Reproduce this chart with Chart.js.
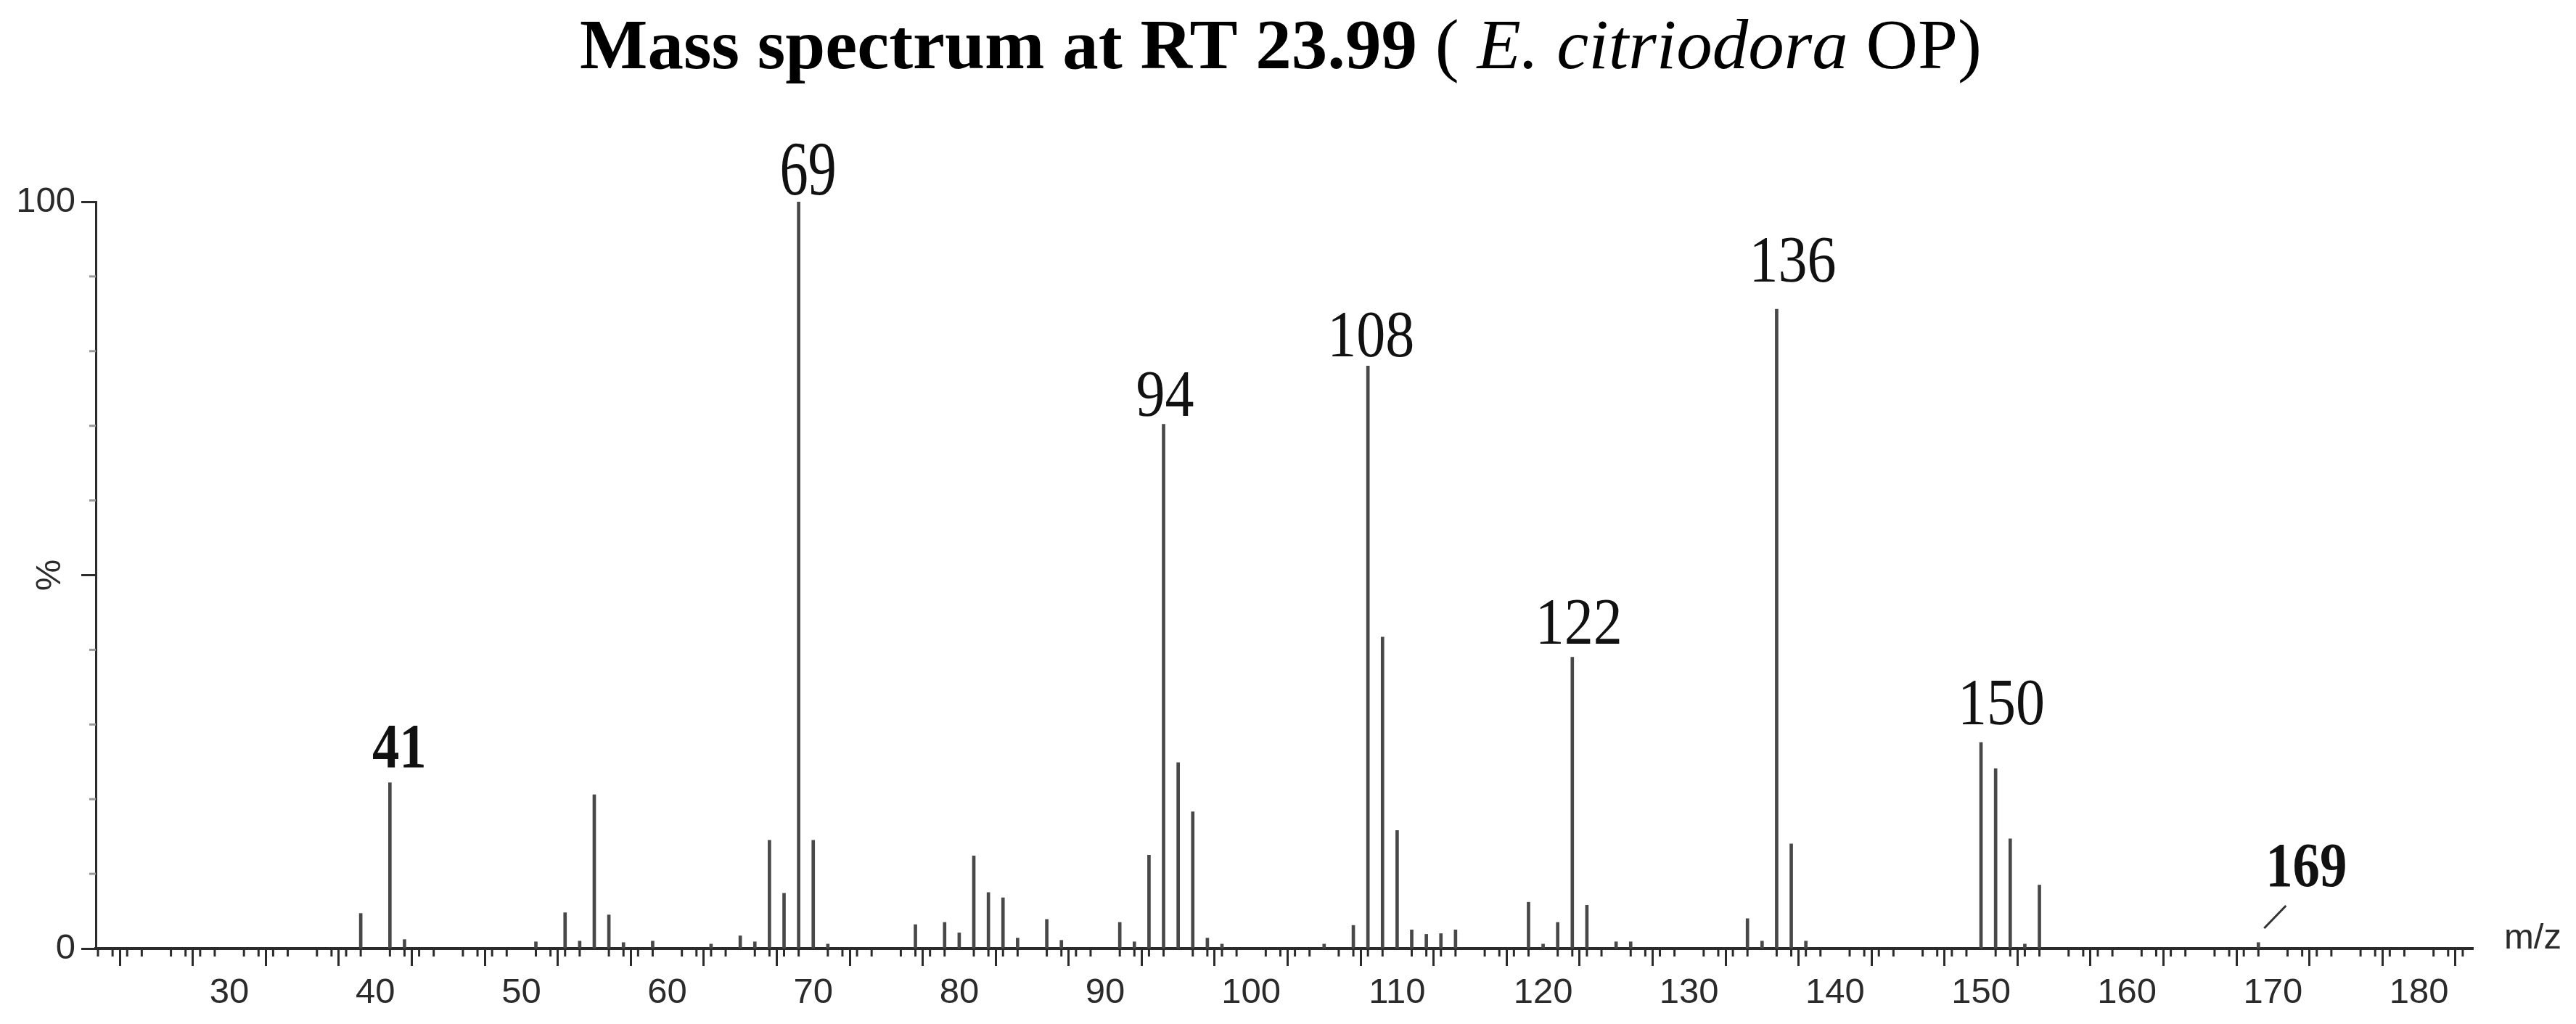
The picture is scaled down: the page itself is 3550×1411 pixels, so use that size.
<!DOCTYPE html>
<html>
<head>
<meta charset="utf-8">
<title>Mass spectrum at RT 23.99</title>
<script src="https://cdn.jsdelivr.net/npm/chart.js@4.4.1/dist/chart.umd.min.js"></script>
<style>
  html, body { margin: 0; padding: 0; background: #fff; }
  #wrap { width: 3550px; height: 1411px; }
</style>
</head>
<body>
<div id="wrap"><canvas id="spectrum" width="3550" height="1411"></canvas></div>
<script>
// m/z values and relative intensities (%)
const mzValues = [39, 41, 42, 51, 53, 54, 55, 56, 57, 59, 63, 65, 66, 67, 68, 69, 70, 71,
    77, 79, 80, 81, 82, 83, 84, 86, 87, 91, 92, 93, 94, 95, 96, 97, 98,
    105, 107, 108, 109, 110, 111, 112, 113, 114, 119, 120, 121, 122, 123, 125, 126,
    134, 135, 136, 137, 138, 150, 151, 152, 153, 154, 169];
const intensities = [4.7, 22.2, 1.2, 0.9, 4.8, 1.0, 20.6, 4.5, 0.8, 1.0, 0.6, 1.7, 0.9, 14.5, 7.4, 100, 14.5, 0.6,
    3.2, 3.5, 2.1, 12.4, 7.5, 6.8, 1.4, 3.9, 1.1, 3.5, 0.9, 12.5, 70.2, 24.9, 18.3, 1.4, 0.6,
    0.6, 3.1, 78.0, 41.7, 15.8, 2.5, 1.9, 2.0, 2.5, 6.2, 0.6, 3.5, 39.0, 5.8, 0.9, 0.9,
    4.0, 1.0, 85.6, 14.0, 1.0, 27.6, 24.1, 14.7, 0.6, 8.5, 0.8];

// labelled peaks
const labelledPeaks = [41, 69, 94, 108, 122, 136, 150, 169];
const boldLabels = [41, 169];

// axis range and tick labels
const mzMin = 20.85;
const mzMax = 183.7;
const xTickLabels = [30, 40, 50, 60, 70, 80, 90, 100, 110, 120, 130, 140, 150, 160, 170, 180];
const yTickLabels = { 0: '0', 100: '100' };

// pixel nudges for the peak labels: [dx right, gap above the peak top]
const labelNudge = {
    41: [13, 22], 69: [13, 10], 94: [2, 12], 108: [4, 13],
    122: [9, 19], 136: [22, 38], 150: [28, 25]
};

const sansFont = '"Liberation Sans", Arial, sans-serif';
const serifFont = '"Liberation Serif", "Times New Roman", serif';
const axisColor = '#2b2b2b';

const decorations = {
    id: 'decorations',
    afterDraw(chart) {
        const ctx = chart.ctx;
        const x = chart.scales.x;
        const y = chart.scales.y;
        const area = chart.chartArea;
        ctx.save();

        // minor ticks on x (every unit) and y (every 10 %)
        ctx.strokeStyle = axisColor;
        ctx.lineWidth = 3;
        for (let v = Math.ceil(x.min); v <= x.max; v++) {
            if (v % 5 === 0) continue;
            const px = x.getPixelForValue(v);
            ctx.beginPath();
            ctx.moveTo(px, area.bottom);
            ctx.lineTo(px, area.bottom + 11);
            ctx.stroke();
        }
        ctx.strokeStyle = '#9a9a9a';
        for (let v = 10; v < 100; v += 10) {
            if (v === 50) continue;
            const py = y.getPixelForValue(v);
            ctx.beginPath();
            ctx.moveTo(area.left, py);
            ctx.lineTo(area.left - 9, py);
            ctx.stroke();
        }

        // title with mixed styles
        const parts = [
            { text: 'Mass spectrum at RT 23.99', font: 'bold 98px ' + serifFont },
            { text: ' ( ', font: '98px ' + serifFont },
            { text: 'E. citriodora', font: 'italic 98px ' + serifFont },
            { text: ' OP)', font: '98px ' + serifFont }
        ];
        let total = 0;
        parts.forEach(p => { ctx.font = p.font; p.w = ctx.measureText(p.text).width; total += p.w; });
        const targetWidth = 1932;
        const sx = Math.min(1.2, targetWidth / total);
        ctx.fillStyle = '#000';
        ctx.textBaseline = 'alphabetic';
        ctx.textAlign = 'left';
        ctx.save();
        ctx.translate(1765 - total * sx / 2, 94);
        ctx.scale(sx, 1);
        let cx = 0;
        parts.forEach(p => { ctx.font = p.font; ctx.fillText(p.text, cx, 0); cx += p.w; });
        ctx.restore();

        // axis captions
        ctx.font = '49px ' + sansFont;
        ctx.fillStyle = axisColor;
        ctx.textAlign = 'center';
        ctx.textBaseline = 'middle';
        ctx.save();
        ctx.translate(69, y.getPixelForValue(50));
        ctx.rotate(-Math.PI / 2);
        ctx.fillText('%', 0, 0);
        ctx.restore();
        ctx.textAlign = 'left';
        ctx.fillText('m/z', area.right + 43, area.bottom - 14);

        // peak labels
        ctx.fillStyle = '#111';
        ctx.textAlign = 'center';
        ctx.textBaseline = 'alphabetic';
        labelledPeaks.forEach(mz => {
            const idx = mzValues.indexOf(mz);
            const bold = boldLabels.includes(mz);
            const px = x.getPixelForValue(mz);
            const py = y.getPixelForValue(intensities[idx]);
            let lx, ly;
            if (mz === 169) {
                ctx.strokeStyle = '#333';
                ctx.lineWidth = 3;
                ctx.beginPath();
                ctx.moveTo(px + 8, area.bottom - 28);
                ctx.lineTo(px + 38, area.bottom - 59);
                ctx.stroke();
                lx = px + 66;
                ly = area.bottom - 86;
            } else {
                lx = px + labelNudge[mz][0];
                ly = py - labelNudge[mz][1];
            }
            // the 69 label is set taller and narrower than the others
            const tall = mz === 69;
            ctx.save();
            ctx.translate(lx, ly);
            ctx.scale(tall ? 0.74 : 0.87, 1);
            ctx.font = (bold ? 'bold 86px ' : (tall ? '106px ' : '92px ')) + serifFont;
            ctx.fillText(String(mz), 0, 0);
            ctx.restore();
        });

        ctx.restore();
    }
};

new Chart(document.getElementById('spectrum'), {
    type: 'bar',
    data: {
        datasets: [{
            data: mzValues.map((m, i) => ({ x: m, y: intensities[i] })),
            backgroundColor: '#484848',
            borderWidth: 0,
            barThickness: 4
        }]
    },
    options: {
        responsive: false,
        animation: false,
        devicePixelRatio: 1,
        layout: { padding: { top: 278, right: 142, left: 0, bottom: 0 } },
        plugins: {
            legend: { display: false },
            tooltip: { enabled: false },
            title: { display: false }
        },
        scales: {
            x: {
                type: 'linear',
                min: mzMin,
                max: mzMax,
                offset: false,
                afterFit(scale) { scale.height = 104; },
                border: { display: true, color: axisColor, width: 4 },
                grid: { drawOnChartArea: false, drawTicks: true, tickLength: 24, tickColor: axisColor, tickWidth: 3 },
                ticks: {
                    stepSize: 5,
                    includeBounds: false,
                    autoSkip: false,
                    maxRotation: 0,
                    padding: 8,
                    color: axisColor,
                    font: { family: sansFont, size: 49 },
                    callback: v => xTickLabels.includes(v) ? String(v) : ''
                }
            },
            y: {
                min: 0,
                max: 100,
                afterFit(scale) { scale.width = 132; },
                border: { display: true, color: axisColor, width: 3 },
                grid: { drawOnChartArea: false, drawTicks: true, tickLength: 20, tickColor: axisColor, tickWidth: 3 },
                ticks: {
                    stepSize: 50,
                    padding: 8,
                    color: axisColor,
                    font: { family: sansFont, size: 49 },
                    callback: v => (v in yTickLabels) ? yTickLabels[v] : ''
                }
            }
        }
    },
    plugins: [decorations]
});
</script>
</body>
</html>
